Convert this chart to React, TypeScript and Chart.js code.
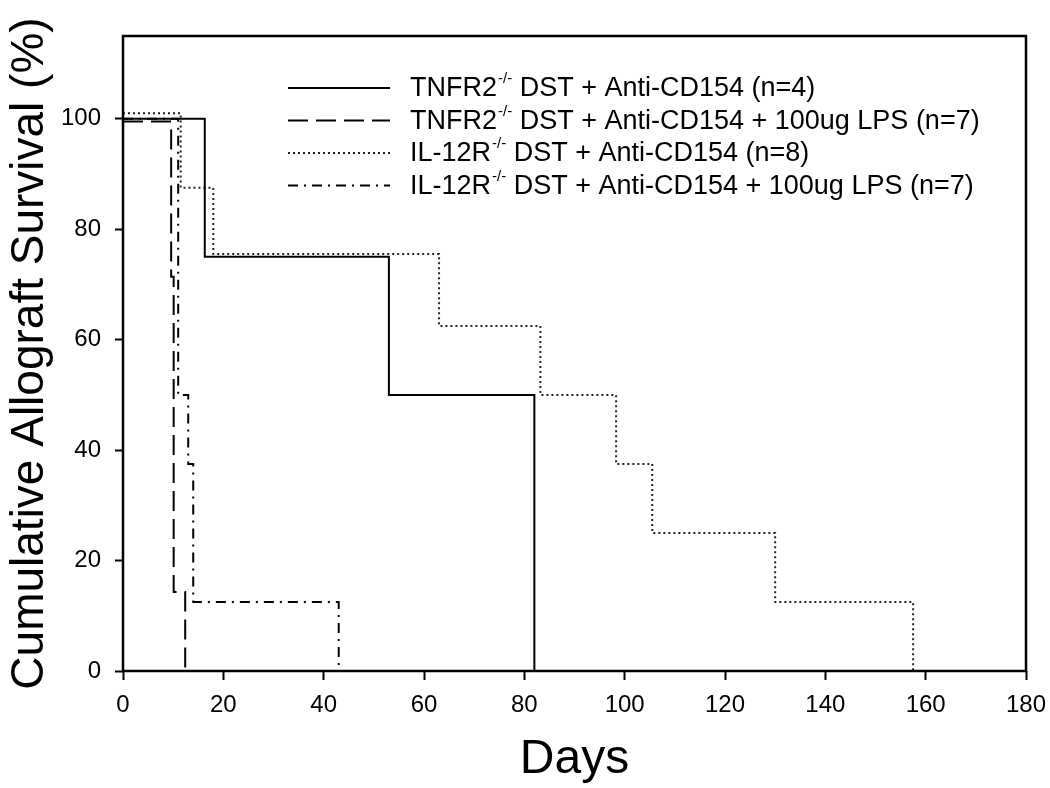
import React, { useEffect, useRef } from 'react';
import { Chart, registerables } from 'chart.js';

Chart.register(...registerables);

// ---- data ----
const xTickValues = [0, 20, 40, 60, 80, 100, 120, 140, 160, 180];
const yTickValues = [0, 20, 40, 60, 80, 100];

const tnfrDays = [0, 16.3, 53, 82];
const tnfrSurvival = [100, 75, 50, 0];

const tnfrLpsDays = [0, 9.6, 10.1, 12.4];
const tnfrLpsSurvival = [99.5, 71.4, 14.3, 0];

const il12Days = [0, 11.5, 18, 63, 83.2, 98.3, 105.5, 130, 157.5];
const il12Survival = [101, 87.5, 75.5, 62.5, 50, 37.5, 25, 12.5, 0];

const il12LpsDays = [0, 11, 13, 14, 43];
const il12LpsSurvival = [100, 50, 37.5, 12.5, 0];

const legendBase = ['TNFR2', 'TNFR2', 'IL-12R', 'IL-12R'];
const legendSup = ['-/-', '-/-', '-/-', '-/-'];
const legendRest = [
  ' DST + Anti-CD154 (n=4)',
  ' DST + Anti-CD154 + 100ug LPS (n=7)',
  ' DST + Anti-CD154 (n=8)',
  ' DST + Anti-CD154 + 100ug LPS (n=7)',
];

const xTitle = 'Days';
const yTitle = 'Cumulative Allograft Survival (%)';

const FONT = '"Liberation Sans", Arial, sans-serif';

const dashStyles: number[][] = [[], [20, 8], [2, 3], [10, 6, 2, 6]];
const lineColors = ['#000000', '#000000', '#222222', '#000000'];

const toPoints = (xs: number[], ys: number[]) => xs.map((x, i) => ({ x, y: ys[i] }));

const framePlugin = {
  id: 'frame',
  afterDatasetsDraw(chart: any) {
    const { ctx, chartArea } = chart;
    ctx.save();
    ctx.strokeStyle = '#000';
    ctx.lineWidth = 2.5;
    ctx.setLineDash([]);
    ctx.strokeRect(chartArea.left, chartArea.top, chartArea.right - chartArea.left, chartArea.bottom - chartArea.top);
    ctx.restore();
  },
};

const legendPlugin = {
  id: 'customLegend',
  afterDraw(chart: any) {
    const { ctx } = chart;
    const rowsY = [88, 120.5, 153, 185.5];
    const x0 = 288;
    const x1 = 390;
    const tx = 410;
    ctx.save();
    for (let i = 0; i < 4; i++) {
      const y = rowsY[i];
      ctx.beginPath();
      ctx.strokeStyle = lineColors[i];
      ctx.lineWidth = 2;
      ctx.setLineDash(dashStyles[i]);
      ctx.moveTo(x0, y);
      ctx.lineTo(x1, y);
      ctx.stroke();
      ctx.setLineDash([]);
      ctx.fillStyle = '#000';
      ctx.textBaseline = 'middle';
      ctx.textAlign = 'left';
      ctx.font = `27px ${FONT}`;
      let x = tx;
      ctx.fillText(legendBase[i], x, y + 1);
      x += ctx.measureText(legendBase[i]).width + 1;
      ctx.font = `15px ${FONT}`;
      ctx.fillText(legendSup[i], x, y - 9);
      x += ctx.measureText(legendSup[i]).width;
      ctx.font = `27px ${FONT}`;
      ctx.fillText(legendRest[i], x, y + 1);
    }
    ctx.restore();
  },
};

export default function App() {
  const canvasRef = useRef<HTMLCanvasElement | null>(null);

  useEffect(() => {
    const canvas = canvasRef.current;
    if (!canvas) return;
    const seriesDays = [tnfrDays, tnfrLpsDays, il12Days, il12LpsDays];
    const seriesSurv = [tnfrSurvival, tnfrLpsSurvival, il12Survival, il12LpsSurvival];
    const names = legendBase.map((b, i) => b + legendSup[i] + legendRest[i]);
    const chart = new Chart(canvas, {
      type: 'line',
      data: {
        datasets: seriesDays.map((d, i) => ({
          label: names[i],
          data: toPoints(d, seriesSurv[i]),
          borderColor: lineColors[i],
          borderWidth: 2,
          borderDash: dashStyles[i],
          pointRadius: 0,
          fill: false,
          stepped: 'before' as const,
          tension: 0,
        })),
      },
      options: {
        responsive: false,
        animation: false,
        maintainAspectRatio: false,
        layout: { padding: { top: 36, right: 24, bottom: 0, left: 0 } },
        plugins: {
          legend: { display: false },
          tooltip: { enabled: false },
        },
        scales: {
          x: {
            type: 'linear',
            min: 0,
            max: 180,
            afterBuildTicks: (scale: any) => {
              scale.ticks = xTickValues.map((v) => ({ value: v }));
            },
            afterFit: (scale: any) => {
              scale.height = 117;
              scale.paddingLeft = 0;
              scale.paddingRight = 0;
            },
            ticks: {
              color: '#000',
              font: { family: FONT, size: 24 },
              padding: 11,
              maxRotation: 0,
              autoSkip: false,
            },
            grid: {
              display: true,
              drawOnChartArea: false,
              drawTicks: true,
              tickLength: 9,
              tickColor: '#000',
              tickWidth: 2,
            },
            border: { display: false },
            title: {
              display: true,
              text: xTitle,
              color: '#000',
              font: { family: FONT, size: 48, lineHeight: 1 },
              padding: { top: 0, bottom: 4 },
            },
          },
          y: {
            type: 'linear',
            min: 0,
            max: 115,
            afterBuildTicks: (scale: any) => {
              scale.ticks = yTickValues.map((v) => ({ value: v }));
            },
            afterFit: (scale: any) => {
              scale.width = 123;
              scale.paddingTop = 0;
              scale.paddingBottom = 0;
            },
            ticks: {
              color: '#000',
              font: { family: FONT, size: 24 },
              padding: 14,
              autoSkip: false,
            },
            grid: {
              display: true,
              drawOnChartArea: false,
              drawTicks: true,
              tickLength: 8,
              tickColor: '#000',
              tickWidth: 2,
            },
            border: { display: false },
            title: {
              display: true,
              text: yTitle,
              color: '#000',
              font: { family: FONT, size: 46, lineHeight: 1 },
              padding: { top: 7, bottom: 0 },
            },
          },
        },
      },
      plugins: [framePlugin, legendPlugin],
    });
    return () => chart.destroy();
  }, []);

  return (
    <div style={{ position: 'fixed', left: 0, top: 0, width: 1050, height: 788, background: '#fff' }}>
      <canvas ref={canvasRef} width={1050} height={788} style={{ width: 1050, height: 788, display: 'block' }} />
    </div>
  );
}
